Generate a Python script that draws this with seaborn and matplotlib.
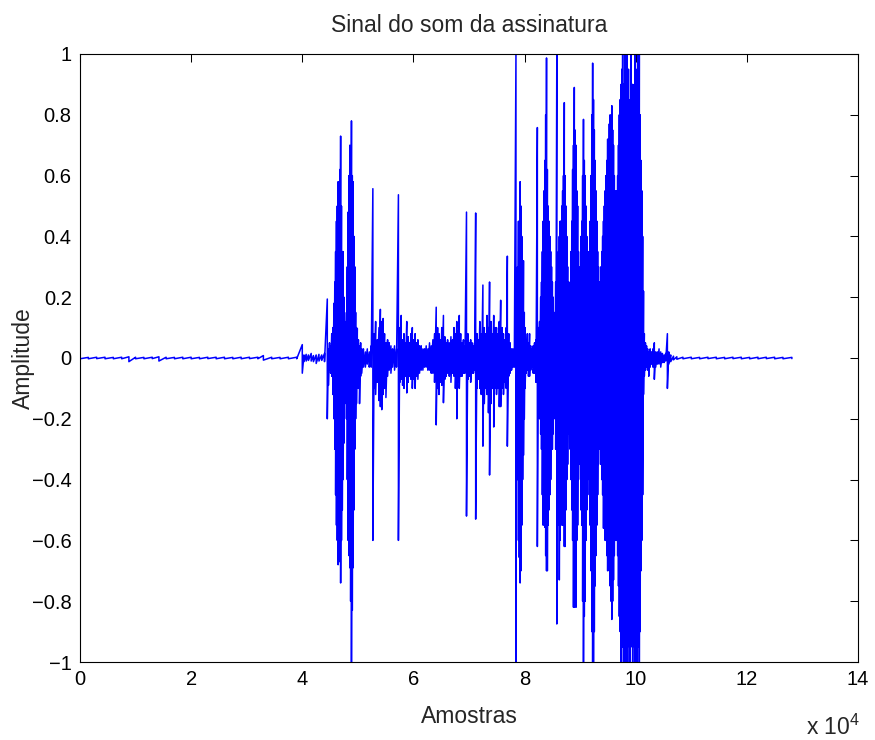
import numpy as np
import pandas as pd
import matplotlib
matplotlib.use("Agg")
import matplotlib.pyplot as plt
import seaborn as sns

# picos do sinal: posicao (amostra), valor maximo e valor minimo
pico_x = [0, 1500, 3000, 4500, 6000, 7500, 8800, 10000, 11500, 13000,
          14200, 15500, 17000, 18500, 20000, 21500, 23000, 24500, 26000, 27500,
          29000, 30500, 32000, 33000, 34500, 36000, 37500, 39000, 40000, 40300,
          40700, 41100, 41600, 42000, 42500, 43000, 43500, 44000, 44500, 44700,
          44900, 45100, 45300, 45500, 45700, 45850, 46000, 46150, 46300, 46450,
          46600, 46750, 46900, 47050, 47200, 47350, 47500, 47650, 47800, 47950,
          48100, 48250, 48400, 48550, 48700, 48850, 49000, 49150, 49300, 49450,
          49600, 49750, 49900, 50100, 50300, 50500, 50700, 51000, 51350, 51700,
          52050, 52400, 52700, 52950, 53200, 53500, 53800, 54050, 54300, 54550,
          54800, 55050, 55350, 55650, 55950, 56250, 56600, 56950, 57300, 57550,
          57800, 58050, 58300, 58550, 58800, 59050, 59300, 59550, 59800, 60050,
          60300, 60550, 60800, 61100, 61400, 61700, 62000, 62300, 62600, 62900,
          63200, 63500, 63800, 64100, 64350, 64600, 64850, 65100, 65400, 65650,
          65900, 66150, 66450, 66750, 67050, 67300, 67550, 67800, 68050, 68250,
          68500, 68750, 69000, 69250, 69550, 69800, 70050, 70300, 70550, 70800,
          71000, 71200, 71450, 71700, 71950, 72200, 72500, 72750, 73000, 73250,
          73500, 73700, 73950, 74200, 74450, 74700, 74950, 75200, 75450, 75700,
          75950, 76200, 76450, 76700, 76900, 77150, 77400, 77650, 77900, 78150,
          78450, 78600, 78750, 78900, 79050, 79200, 79350, 79500, 79650, 79800,
          79950, 80100, 80300, 80500, 80700, 80900, 81100, 81300, 81550, 81800,
          82050, 82300, 82500, 82700, 82900, 83050, 83200, 83350, 83500, 83650,
          83800, 83950, 84100, 84250, 84400, 84550, 84700, 84850, 85000, 85150,
          85300, 85450, 85600, 85800, 85950, 86100, 86250, 86400, 86550, 86700,
          86850, 87000, 87150, 87300, 87450, 87600, 87750, 87900, 88050, 88200,
          88350, 88500, 88650, 88800, 88950, 89100, 89250, 89400, 89550, 89700,
          89850, 90000, 90150, 90300, 90450, 90600, 90750, 90900, 91050, 91200,
          91350, 91500, 91650, 91800, 91950, 92100, 92250, 92400, 92550, 92700,
          92850, 93000, 93150, 93300, 93450, 93600, 93750, 93900, 94050, 94200,
          94350, 94500, 94650, 94800, 94950, 95100, 95250, 95400, 95550, 95700,
          95850, 96000, 96150, 96300, 96450, 96600, 96750, 96900, 97050, 97200,
          97350, 97500, 97650, 97800, 97950, 98100, 98250, 98400, 98550, 98700,
          98850, 99000, 99150, 99300, 99450, 99600, 99750, 99900, 100050, 100200,
          100350, 100500, 100650, 100800, 100950, 101100, 101250, 101400, 101550, 101750,
          101950, 102150, 102350, 102600, 102850, 103100, 103350, 103600, 103900, 104200,
          104500, 104800, 105100, 105400, 105700, 105950, 106300, 106800, 107400, 108500,
          110000, 111500, 113000, 114500, 116000, 117500, 119000, 120500, 122000, 123500,
          125000, 126500, 128100]

pico_max = [.0025, .002, .0025, .0025, .002, .0025, .004, .0025, .002, .0025,
            .004, .0025, .002, .0025, .0025, .002, .0025, .0025, .0025, .002,
            .0025, .0025, .0025, .008, .0025, .002, .0025, .0025, .044, .010,
            .012, .010, .015, .008, .010, .012, .010, .015, .194, .03,
            .05, .04, .08, .10, .18, .25, .35, .45, .50, .58,
            .55, .62, .73, .50, .35, .35, .20, .12, .06, .15,
            .30, .48, .60, .70, .65, .78, .60, .58, .40, .30,
            .15, .10, .097, .06, .04, .05, .03, .03, .02, .03,
            .02, .04, .557, .08, .12, .06, .10, .16, .12, .13,
            .08, .05, .06, .05, .04, .03, .04, .03, .537, .10,
            .14, .06, .08, .05, .12, .07, .05, .08, .10, .06,
            .08, .05, .06, .04, .04, .03, .03, .04, .03, .05,
            .04, .06, .08, .167, .10, .08, .06, .10, .14, .07,
            .05, .06, .05, .07, .06, .10, .08, .12, .09, .14,
            .08, .05, .06, .04, .48, .08, .05, .06, .05, .04,
            .05, .477, .08, .06, .12, .08, .24, .10, .08, .14,
            .10, .25, .12, .08, .14, .10, .10, .08, .12, .19,
            .10, .08, .06, .10, .335, .08, .05, .03, .03, .02,
            1.0, .25, .30, .45, .43, .58, .50, .40, .30, .32,
            .15, .10, .06, .08, .05, .08, .04, .03, .04, .05,
            .06, .758, .10, .12, .20, .25, .35, .45, .55, .65,
            .80, .987, .62, .50, .45, .40, .35, .30, .25, .20,
            .15, .12, .25, 1.0, .30, .35, .40, .45, .45, .50,
            .55, .60, .84, .60, .50, .40, .30, .25, .20, .25,
            .35, .45, .62, .70, .89, .75, .70, .55, .50, .35,
            .25, .30, .40, .45, .60, .785, .65, .60, .50, .40,
            .35, .30, .35, .45, .60, .80, .97, .85, .75, .65,
            .55, .45, .35, .30, .25, .25, .30, .35, .40, .45,
            .50, .55, .60, .65, .72, .70, .77, .80, .75, .83,
            .75, .70, .60, .55, .50, .55, .60, .70, .80, .85,
            .90, .95, 1.0, .90, .85, 1.0, .95, 1.0, .90, .95,
            .80, .85, 1.0, .90, .90, .85, .90, 1.0, .95, .90,
            1.0, .85, 1.0, .80, .65, .55, .40, .22, .08, .05,
            .04, .03, .02, .03, .02, .03, .05, .02, .02, .03,
            .02, .015, .01, .015, .08, .02, .01, .006, .004, .0025,
            .0025, .002, .0025, .0025, .002, .0025, .0025, .002, .0025, .0025,
            .0025, .002, .002]

pico_min = [-.0025, -.0025, -.002, -.0025, -.0025, -.0025, -.012, -.0025, -.0025, -.002,
            -.010, -.0025, -.0025, -.0025, -.0025, -.0025, -.002, -.0025, -.0025, -.0025,
            -.0025, -.002, -.0025, -.007, -.0025, -.0025, -.0025, -.0025, -.05, -.012,
            -.010, -.008, -.010, -.012, -.018, -.010, -.008, -.012, -.20, -.09,
            -.04, -.05, -.06, -.12, -.20, -.30, -.45, -.55, -.60, -.68,
            -.65, -.67, -.74, -.60, -.50, -.40, -.28, -.15, -.08, -.20,
            -.40, -.60, -.65, -.69, -.80, -1.0, -.83, -.69, -.50, -.30,
            -.20, -.15, -.08, -.10, -.15, -.06, -.05, -.03, -.03, -.02,
            -.03, -.03, -.60, -.10, -.12, -.08, -.14, -.16, -.17, -.12,
            -.10, -.13, -.06, -.04, -.05, -.03, -.04, -.03, -.60, -.08,
            -.07, -.09, -.10, -.06, -.115, -.08, -.06, -.07, -.10, -.07,
            -.10, -.06, -.07, -.05, -.04, -.04, -.03, -.03, -.04, -.04,
            -.05, -.05, -.08, -.22, -.10, -.12, -.08, -.09, -.147, -.07,
            -.06, -.05, -.06, -.08, -.05, -.06, -.10, -.20, -.08, -.10,
            -.06, -.06, -.05, -.05, -.52, -.07, -.06, -.08, -.05, -.05,
            -.04, -.53, -.10, -.07, -.10, -.12, -.29, -.15, -.10, -.12,
            -.18, -.385, -.15, -.10, -.227, -.10, -.12, -.10, -.16, -.16,
            -.10, -.12, -.08, -.10, -.29, -.06, -.05, -.04, -.03, -.03,
            -1.0, -.35, -.40, -.60, -.656, -.74, -.70, -.55, -.40, -.32,
            -.20, -.10, -.05, -.04, -.06, -.06, -.04, -.03, -.05, -.05,
            -.08, -.62, -.12, -.20, -.25, -.30, -.45, -.55, -.50, -.557,
            -.65, -.70, -.70, -.55, -.50, -.45, -.40, -.30, -.30, -.25,
            -.20, -.15, -.30, -.875, -.45, -.55, -.73, -.60, -.55, -.50,
            -.55, -.55, -.62, -.62, -.50, -.40, -.35, -.25, -.25, -.30,
            -.40, -.50, -.60, -.82, -.82, -.80, -.82, -.60, -.55, -.40,
            -.30, -.35, -.50, -.55, -.80, -1.0, -.85, -.80, -.60, -.50,
            -.40, -.35, -.45, -.55, -.70, -.90, -1.0, -1.0, -.90, -.75,
            -.65, -.55, -.45, -.35, -.30, -.30, -.35, -.40, -.45, -.56,
            -.55, -.60, -.60, -.65, -.70, -.65, -.70, -.75, -.80, -.86,
            -.80, -.73, -.65, -.60, -.55, -.60, -.65, -.75, -.85, -.90,
            -1.0, -.95, -.95, -1.0, -1.0, -1.0, -.90, -1.0, -.95, -.90,
            -1.0, -1.0, -.85, -.95, -1.0, -.90, -.95, -1.0, -1.0, -1.0,
            -.95, -.95, -1.0, -.90, -.70, -.60, -.45, -.12, -.06, -.04,
            -.03, -.04, -.06, -.03, -.02, -.03, -.07, -.03, -.02, -.02,
            -.03, -.015, -.015, -.01, -.10, -.02, -.012, -.006, -.004, -.0025,
            -.0025, -.0025, -.002, -.0025, -.0025, -.002, -.0025, -.0025, -.0025, -.002,
            -.0025, -.0025, -.002]

xticks_vals = [0, 2, 4, 6, 8, 10, 12, 14]
yticks_vals = [-1, -0.8, -0.6, -0.4, -0.2, 0, 0.2, 0.4, 0.6, 0.8, 1]

# intercala maximo e minimo de cada pico para formar o sinal
amostras = np.repeat(pico_x, 2)
amplitude = np.column_stack([pico_max, pico_min]).ravel()
df = pd.DataFrame({"Amostras": amostras, "Amplitude": amplitude})

sns.set_style("white")
plt.rcParams["font.family"] = ["Liberation Sans", "DejaVu Sans"]
plt.rcParams["mathtext.default"] = "regular"

fig = plt.figure(figsize=(8.75, 7.4), dpi=100)
ax = fig.add_axes([80/875, 1-662/740, (858-80)/875, (662-54)/740])

sns.lineplot(data=df, x="Amostras", y="Amplitude", sort=False, estimator=None,
             color="blue", linewidth=1.1, ax=ax)

ax.set_xlim(0, 140000)
ax.set_ylim(-1, 1)
ax.set_xticks([v * 1e4 for v in xticks_vals])
ax.set_xticklabels([str(v) for v in xticks_vals])
ax.set_yticks(yticks_vals)
ax.set_yticklabels([f"{v:g}".replace("-", "\u2212") for v in yticks_vals])
ax.tick_params(axis="both", which="both", direction="in", length=5.5, width=0.75,
               top=True, right=True, labelsize=14.5, pad=6, colors="black")
for s in ax.spines.values():
    s.set_visible(True)
    s.set_color("black")
    s.set_linewidth(0.8)

ax.set_title("Sinal do som da assinatura", fontsize=16.5, pad=16)
ax.set_xlabel("Amostras", fontsize=16.5, labelpad=11)
ax.set_ylabel("Amplitude", fontsize=16.5, labelpad=-2)
fig.text(860/875, 1-735/740, "x 10$^{4}$", ha="right", va="baseline", fontsize=16.5)

fig.savefig("out.png", dpi=100)
